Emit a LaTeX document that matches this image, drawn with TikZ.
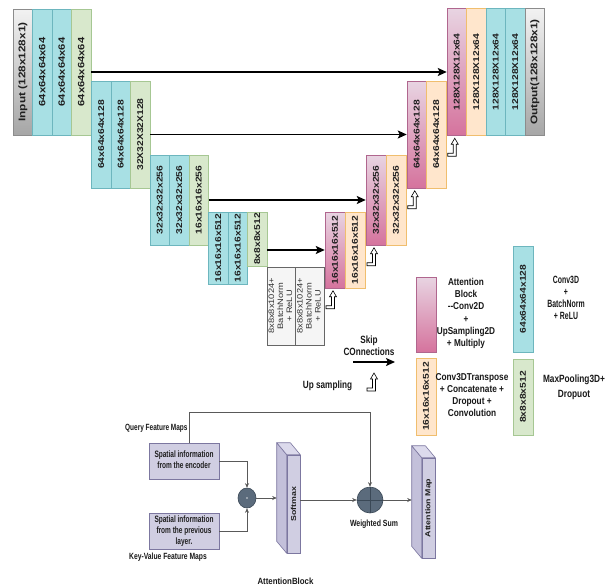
\documentclass[tikz,border=0pt]{standalone}
\usepackage{graphicx}
\usepackage{fontspec}
\setmainfont{Liberation Sans}
\usetikzlibrary{arrows.meta,calc,shapes.geometric}
\definecolor{cy}{HTML}{A8E0E4}
\definecolor{cyd}{HTML}{6DB6BE}
\definecolor{gr}{HTML}{D8E8CC}
\definecolor{grd}{HTML}{A6C793}
\definecolor{orf}{HTML}{FFE6CC}
\definecolor{ord}{HTML}{F0BE6E}
\definecolor{pkt}{HTML}{E8D4E2}
\definecolor{pkb}{HTML}{D5739D}
\definecolor{pkd}{HTML}{B0668E}
\definecolor{gyt}{HTML}{F2F2F2}
\definecolor{gyb}{HTML}{A6A6A6}
\definecolor{gyd}{HTML}{8C8C8C}
\definecolor{bnf}{HTML}{F5F5F5}
\definecolor{bnd}{HTML}{666666}
\definecolor{lav}{HTML}{D0CEE2}
\definecolor{lavd}{HTML}{7C77A0}
\definecolor{lavs}{HTML}{C3C0DA}
\definecolor{lavt}{HTML}{DCDAEC}
\definecolor{slt}{HTML}{5B6B7C}
\definecolor{sltd}{HTML}{3A4856}
\definecolor{cn}{HTML}{595959}
\newcommand\rt[2][10.3]{\rotatebox{90}{\scalebox{1}[0.82]{\fontsize{#1}{#1}\selectfont\bfseries #2}}}
\newcommand\hlab[4]{\scalebox{#1}[1]{\fontsize{#2}{#3}\selectfont\bfseries\begin{tabular}{@{}c@{}}#4\end{tabular}}}
\newcommand\bnt{\rotatebox{90}{\scalebox{1}[0.85]{\fontsize{9.3}{10.6}\selectfont\begin{tabular}{@{}c@{}}8x8x8x1024+\\BatchNorm\\+ ReLU\end{tabular}}}}
\newcommand\ubx[7]{\node[#1, minimum width=#2, minimum height=#3] (#4) at (#5,#6) {#7};}
\begin{document}
\begin{tikzpicture}[x=1pt,y=-1pt,
  ubox/.style={draw, line width=0.5pt, inner sep=0pt, text=black!88},
  cyanb/.style={ubox, fill=cy, draw=cyd},
  greenb/.style={ubox, fill=gr, draw=grd},
  orangeb/.style={ubox, fill=orf, draw=ord},
  pinkb/.style={ubox, top color=pkt, bottom color=pkb, draw=pkd},
  grayb/.style={ubox, top color=gyt, bottom color=gyb, draw=gyd},
  bnb/.style={ubox, fill=bnf, draw=bnd, text=black!80},
  lavb/.style={draw=lavd, fill=lav, line width=0.6pt, inner sep=0pt, text=black!88},
  lab/.style={inner sep=0pt, text=black!90},
  bigarr/.style={line width=1.8pt, -{Stealth[length=9pt,width=8pt,inset=2pt]}},
  conn/.style={draw=cn, line width=0.7pt, -{Stealth[length=4.5pt,width=4pt]}},
  slabfront/.style={draw=lavd, fill=lav, line width=0.6pt, inner sep=0pt, text=black!88},
  slabside/.style={draw=lavd, fill=lavs, line width=0.6pt, line join=round},
  slabtop/.style={draw=lavd, fill=lavt, line width=0.6pt, line join=round},
  upsym/.pic={\draw[fill=white, line width=0.6pt, line join=miter] (0,0) -- (3.5,6) -- (1.5,6) -- (1.5,18) -- (-7,18) -- (-7,15) -- (-1.5,15) -- (-1.5,6) -- (-3.5,6) -- cycle;}
]
\useasboundingbox (0,0) rectangle (607,587);
\fill[white] (0,0) rectangle (607,587);
% encoder
\ubx{grayb}{19.5}{126}{inp}{22.75}{72}{\rt[11.8]{Input (128x128x1)}}
\ubx{cyanb}{19.5}{126}{e1a}{42.25}{72}{\rt[11.2]{64x64x64x64}}
\ubx{cyanb}{19.5}{126}{e1b}{61.75}{72}{\rt[11.2]{64x64x64x64}}
\ubx{greenb}{19.5}{126}{e1g}{81.25}{72}{\rt[11.2]{64x64x64x64}}
\ubx{cyanb}{19.5}{107}{e2a}{101.25}{134.5}{\rt{64x64x64x128}}
\ubx{cyanb}{19.5}{107}{e2b}{120.75}{134.5}{\rt{64x64x64x128}}
\ubx{greenb}{19.5}{107}{e2g}{140.25}{134.5}{\rt{32X32X32X128}}
\ubx{cyanb}{19.5}{90}{e3a}{159.75}{200}{\rt{32x32x32x256}}
\ubx{cyanb}{19.5}{90}{e3b}{179.25}{200}{\rt{32x32x32x256}}
\ubx{greenb}{19.5}{90}{e3g}{198.75}{200}{\rt{16x16x16x256}}
\ubx{cyanb}{19.5}{72}{e4a}{218.25}{248}{\rt{16x16x16x512}}
\ubx{cyanb}{19.5}{72}{e4b}{237.75}{248}{\rt{16x16x16x512}}
\ubx{greenb}{19.5}{54}{e4g}{257.25}{239}{\rt{8x8x8x512}}
% bottleneck
\ubx{bnb}{28.5}{78}{bn1}{281.25}{306}{\bnt}
\ubx{bnb}{28.5}{78}{bn2}{309.75}{306}{\bnt}
% decoder
\ubx{pinkb}{20}{76}{d4p}{335}{250}{\rt{16x16x16x512}}
\ubx{orangeb}{20}{76}{d4o}{355}{250}{\rt{16x16x16x512}}
\ubx{pinkb}{20}{90}{d3p}{376}{200}{\rt{32x32x32x256}}
\ubx{orangeb}{20}{90}{d3o}{396}{200}{\rt{32x32x32x256}}
\ubx{pinkb}{19.5}{107}{d2p}{416.75}{134.5}{\rt{64x64x64x128}}
\ubx{orangeb}{19.5}{107}{d2o}{436.25}{134.5}{\rt{64x64x64x128}}
\ubx{pinkb}{19.5}{127}{d1p}{456.75}{72}{\rt{128X128X12x64}}
\ubx{orangeb}{19.5}{127}{d1o}{476.25}{72}{\rt{128X128X12x64}}
\ubx{cyanb}{19.5}{127}{d1a}{495.75}{72}{\rt{128X128X12x64}}
\ubx{cyanb}{19.5}{127}{d1b}{515.25}{72}{\rt{128X128X12x64}}
\ubx{grayb}{19.5}{127}{outp}{534.75}{72}{\rt[11.8]{Output(128x128x1)}}
% skip arrows
\draw[bigarr] (e1g.east) -- (d1p.west |- e1g.east);
\draw[bigarr] (e2g.east) -- (d2p.west |- e2g.east);
\draw[bigarr] (e3g.east) -- (d3p.west |- e3g.east);
\draw[bigarr] (e4g.east |- d4p.west) -- (d4p.west);
% upsampling symbols
\pic at ($(d1p.south)+(-2,2.5)$) {upsym};
\pic at ($(d2p.south)+(-2,2.5)$) {upsym};
\pic at ($(d3p.south)+(-2,2.5)$) {upsym};
\pic at ($(d4p.south)+(-2,2.5)$) {upsym};
% legend
\ubx{pinkb}{20}{75}{lp}{426}{314.5}{}
\ubx{cyanb}{20}{106}{lc}{523}{299}{\rt{64x64x64x128}}
\ubx{orangeb}{20}{77}{lo}{426}{396.5}{\rt{16x16x16x512}}
\ubx{greenb}{20}{76}{lg}{523}{397}{\rt{8x8x8x512}}
\node[lab] (tattn) at (466,313.5) {\hlab{0.82}{10}{12.3}{Attention\\Block\\-{}-Conv2D\\+\\UpSampling2D\\+ Multiply}};
\node[lab] (tconv) at (566,299) {\hlab{0.66}{10.5}{12}{Conv3D\\+\\BatchNorm\\+ ReLU}};
\node[lab] (ttrans) at (472,396) {\hlab{0.83}{10}{11.8}{Conv3DTranspose\\+ Concatenate +\\Dropout +\\Convolution}};
\node[lab] (tpool) at (574,387) {\hlab{0.79}{10.5}{15}{MaxPooling3D+\\Dropuot}};
\node[lab] (tskip) at (369,347) {\hlab{0.78}{10.5}{12.5}{Skip\\COnnections}};
\coordinate (sk1) at (353,362);
\coordinate (sk2) at (395,362);
\draw[bigarr, line width=1.3pt] (sk1) -- (sk2);
\node[lab] (tup) at (327.5,386) {\hlab{0.78}{10.5}{12}{Up sampling}};
\pic at (374,373) {upsym};
% attention block
\node[lavb, minimum width=70, minimum height=36] (enc) at (184,461) {\hlab{0.7}{9.3}{11}{Spatial information\\from the encoder}};
\node[lavb, minimum width=70, minimum height=36] (prev) at (184,531) {\hlab{0.7}{9.3}{11}{Spatial information\\from the previous\\layer.}};
\node[lab, anchor=west] (tq) at (125,428) {\hlab{0.72}{9}{10}{Query Feature Maps}};
\node[lab, anchor=west] (tkv) at (129,557) {\hlab{0.75}{9}{10}{Key-Value Feature Maps}};
\node[ellipse, draw=sltd, fill=slt, line width=0.6pt, minimum width=18, minimum height=20, inner sep=0pt] (mul) at (247,498) {};
\fill[white!75!slt] (mul.center) circle (0.9);
\node[circle, draw=sltd, fill=slt, line width=0.6pt, minimum size=26, inner sep=0pt] (ws) at (370,500) {};
\draw[sltd, line width=0.6pt] (ws.north) -- (ws.south) (ws.west) -- (ws.east);
\node[lab] (tws) at (374,524) {\hlab{0.77}{9}{10}{Weighted Sum}};
\node[lab] (tab) at (285.5,582) {\hlab{0.875}{9}{10}{AttentionBlock}};
% slabs
\node[slabfront, minimum width=13, minimum height=98] (soft) at (293.5,504) {\rt[8.8]{Softmax}};
\draw[slabside] (soft.north west) -- ++(-10,-12) -- ($(soft.south west)+(-10,-12)$) -- (soft.south west) -- cycle;
\draw[slabtop] (soft.north west) -- ++(-10,-12) -- ($(soft.north east)+(-10,-12)$) -- (soft.north east) -- cycle;
\coordinate (softL) at ($(soft.west)+(-10,0)$);
\node[slabfront, minimum width=13, minimum height=100] (att) at (428.5,508) {\rt[8.8]{Attention Map}};
\draw[slabside] (att.north west) -- ++(-10,-12) -- ($(att.south west)+(-10,-12)$) -- (att.south west) -- cycle;
\draw[slabtop] (att.north west) -- ++(-10,-12) -- ($(att.north east)+(-10,-12)$) -- (att.north east) -- cycle;
\coordinate (attL) at ($(att.west)+(-10,0)$);
% connectors
\draw[conn] ([xshift=5pt]enc.north) -- ++(0,-30) -| (ws.north);
\draw[conn] (enc.east) -| (mul.north);
\draw[conn] (prev.east) -| (mul.south);
\draw[conn] (mul.east) -- (mul.east -| softL);
\draw[conn] (soft.east |- ws.west) -- (ws.west);
\draw[conn] (ws.east) -- (ws.east -| attL);
\end{tikzpicture}
\end{document}
